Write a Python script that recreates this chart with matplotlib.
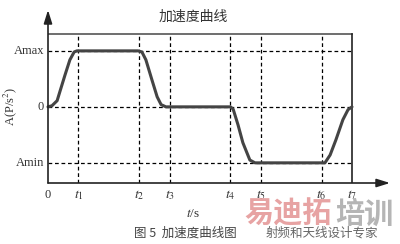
import matplotlib
matplotlib.use("Agg")
import matplotlib.pyplot as plt

plt.rcParams['font.family'] = ['Liberation Serif', 'Noto Sans CJK SC', 'DejaVu Sans']
plt.rcParams['mathtext.fontset'] = 'stix'

# Time marks (arbitrary units) and levels
tick_times = [1, 3, 4, 6, 7, 9, 10]
tick_labels = [r'$t_1$', r'$t_2$', r'$t_3$', r'$t_4$', r'$t_5$', r'$t_6$', r'$t_7$']
levels = [1, 0, -1]
level_labels = ['Amax', '0', 'Amin']

# Acceleration curve points
curve_t = [0, 0.13, 0.30, 0.39, 0.56, 0.72, 0.86, 0.95,
           2.96, 3.09, 3.22, 3.42, 3.59, 3.72, 3.88,
           6.0, 6.09, 6.25, 6.41, 6.64, 6.81,
           9.11, 9.28, 9.47, 9.70, 9.87, 10.0]
curve_a = [0, 0.02, 0.11, 0.27, 0.57, 0.84, 0.98, 1.0,
           1.0, 0.98, 0.84, 0.48, 0.18, 0.04, 0.0,
           0.0, -0.04, -0.32, -0.64, -0.95, -1.0,
           -1.0, -0.86, -0.59, -0.23, -0.05, 0.0]

fig = plt.figure(figsize=(4.0, 2.44), dpi=100)
ax = fig.add_axes([0.12, 0.25, 0.855, 0.709])
xmin, xmax = 0, 11.25
ymin, ymax = -1.36, 1.73
ytop = 1.30
ax.set_xlim(xmin, xmax)
ax.set_ylim(ymin, ymax)
ax.axis('off')

dash = (0, (3, 2.2))
for t in tick_times[:-1]:
    ax.plot([t, t], [ymin, ytop], color='black', lw=0.9, linestyle=dash)
for lv in levels:
    ax.plot([0, 10], [lv, lv], color='black', lw=0.9, linestyle=dash)

# frame lines
ax.plot([0, 10], [ytop, ytop], color='#555555', lw=1.2)
ax.plot([10, 10], [ymin, ytop], color='#222222', lw=1.2)

# axes with arrows
ax.annotate('', xy=(xmax, ymin), xytext=(0, ymin),
            arrowprops=dict(arrowstyle='-|>,head_length=0.8,head_width=0.25', color='#222222', lw=1.2,
                            shrinkA=0, shrinkB=0), annotation_clip=False)
ax.annotate('', xy=(0, ymax), xytext=(0, ymin),
            arrowprops=dict(arrowstyle='-|>,head_length=0.8,head_width=0.25', color='#222222', lw=1.2,
                            shrinkA=0, shrinkB=0), annotation_clip=False)

ax.plot(curve_t, curve_a, color='#444444', lw=2.2, solid_capstyle='round', clip_on=False)

tc = '#333333'
for lv, lab in zip(levels, level_labels):
    ax.text(-0.13, lv, lab, ha='right', va='center', fontsize=9, color=tc)
ax.text(0, -1.58, '0', ha='center', va='center', fontsize=9, color=tc)
for t, lab in zip(tick_times, tick_labels):
    ax.text(t, -1.58, lab, ha='center', va='center', fontsize=10, color=tc)

ax.text(-1.25, 0.0, r'A(P/s$^2$)', rotation=90, ha='center', va='center', fontsize=9, color=tc)
ax.text(4.78, -1.92, r'$t$/s', ha='center', va='center', fontsize=9.5, color=tc)

fig.text(0.4825, 0.93, '加速度曲线', ha='center', va='center', fontsize=10,
         family=['Noto Sans CJK SC'], color=tc)
fig.text(0.335, 0.045, '图 5  加速度曲线图', ha='left', va='center', fontsize=9,
         family=['Noto Sans CJK SC'], color='#444444')

# watermark
fig.text(0.612, 0.125, '易迪拓', ha='left', va='center', fontsize=21, fontweight='bold',
         family=['Noto Sans CJK SC'], color='#e7a3a3')
fig.text(0.838, 0.125, '培训', ha='left', va='center', fontsize=21, fontweight='bold',
         family=['Noto Sans CJK SC'], color='#b5b5b5')
fig.text(0.663, 0.045, '射频和天线设计专家', ha='left', va='center', fontsize=9,
         family=['Noto Sans CJK SC'], color='#666666')

fig.savefig('out.png', dpi=100)
